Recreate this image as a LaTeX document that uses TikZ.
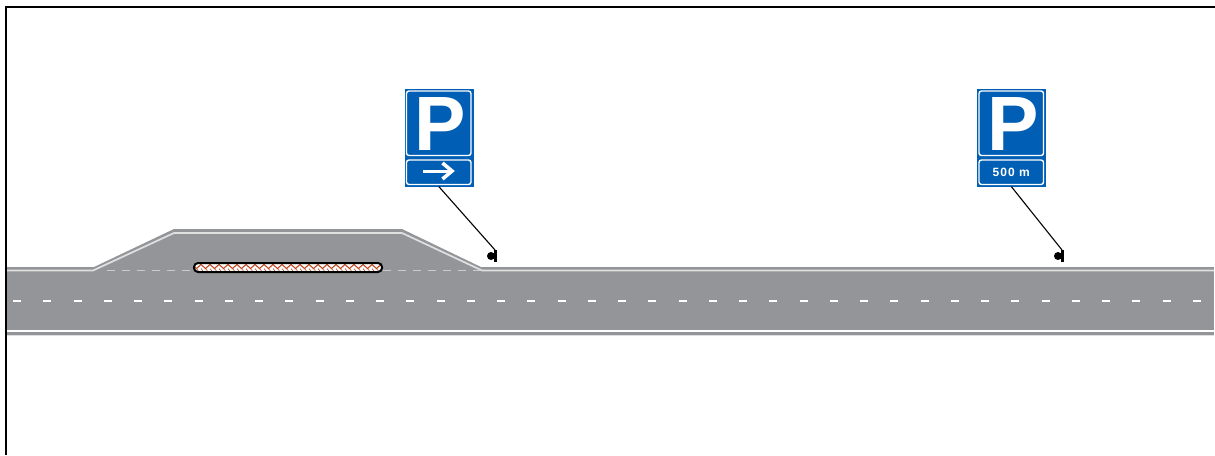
\documentclass[tikz,border=0pt]{standalone}
\usepackage{fontspec}
\setmainfont{Liberation Sans}
\newfontfamily\signfont[LetterSpace=9]{Liberation Sans}
\usepackage{xcolor}
\usepackage{tikz}
\usetikzlibrary{calc}
\definecolor{roadgrey}{HTML}{939598}
\definecolor{edgegrey}{HTML}{DFE0E0}
\definecolor{dashgrey}{HTML}{CBCCCD}
\definecolor{signblue}{HTML}{005EB4}
\definecolor{zigred}{HTML}{C04A22}
\tikzset{
  plate/.style={fill=signblue,draw=signblue,line width=0.5pt,inner sep=0pt,minimum width=68pt},
  inset/.style={draw=white,line width=1.4pt,fill=signblue,rounded corners=2.5pt,inner sep=0pt,minimum width=64.5pt},
  edgeline/.style={edgegrey,line width=1.7pt},
  marking/.style={white,line width=1.3pt},
  leader/.style={black,line width=1.1pt}
}
% one parking sign: #1 name, #2 left edge, #3 content of the lower panel
\newcommand{\parksign}[3]{
  \node[plate,minimum height=68pt,anchor=north west] (#1) at (#2,89) {};
  \node[inset,minimum height=64.5pt] at (#1.center) {};
  \node[anchor=base,inner sep=0pt,text=white,font=\fontsize{77}{77}\selectfont\bfseries] at ($(#1.center)+(1.5,27.7)$) {P};
  \node[plate,minimum height=28pt,anchor=north west] (#1panel) at (#2,158) {};
  \node[inset,minimum height=24.5pt,text=white] at (#1panel.center) {#3};
}
% pole mark: #1 name, #2 x of bar
\newcommand{\polemark}[2]{
  \fill (#2-4.5,256) circle (4);
  \draw[black,line width=2.6pt] (#2,250) -- (#2,262);
  \coordinate (#1) at (#2-0.5,250);
}
\begin{document}
\begin{tikzpicture}[x=1pt,y=-1pt]
\useasboundingbox (0,0) rectangle (1215,455);
% road
\fill[roadgrey] (6,267) rectangle (1214,335);
\fill[edgegrey] (6,334.5) rectangle (1214,335.5);
\fill[roadgrey] (92,268) -- (174,229) -- (402,229) -- (483,268) -- cycle;
\draw[edgeline] (6,270.5) -- (93,270.5) -- (174,233) -- (402,233) -- (482,270.5) -- (1214,270.5);
\draw[white,line width=1.4pt] (6,331) -- (1214,331);
\foreach \x in {0,...,39}
  \draw[marking] (13+30.25*\x,301) -- ++(8,0);
\foreach \x in {107,122,137,152,167,182,383,398,413,428,443,458,473}
  \draw[dashgrey,line width=1.5pt] (\x,270.7) -- ++(7.5,0);
% island
\begin{scope}
  \clip[rounded corners=4pt] (194,263) rectangle (382,272);
  \fill[white] (194,263) rectangle (382,272);
  \foreach \x in {0,...,21} {
    \draw[zigred,line width=1.1pt] (192+9*\x,264.5) -- ++(4.5,4) -- ++(4.5,-4);
  }
  \foreach \x in {0,...,42}
    \draw[zigred,line width=0.6pt] (192+4.5*\x,268.5) -- ++(2,2.5);
\end{scope}
\draw[black,line width=2pt,rounded corners=4pt] (194,263) rectangle (382,272);
% signs
\parksign{parkA}{404.5}{}
\parksign{parkB}{977}{\signfont\fontsize{12}{12}\selectfont\bfseries 500 m}
\draw[white,line width=3pt] (423,171) -- (451,171);
\draw[white,line width=3.6pt] (442.5,163) -- (452,171) -- (442.5,179);
\polemark{poleA}{495.5}
\polemark{poleB}{1062.5}
\draw[leader] (parkApanel.south) -- (poleA);
\draw[leader] (parkBpanel.south) -- (poleB);
% frame
\draw[black,line width=2pt] (5.5,455) -- (5.5,6.5) -- (1215,6.5);
\end{tikzpicture}
\end{document}
